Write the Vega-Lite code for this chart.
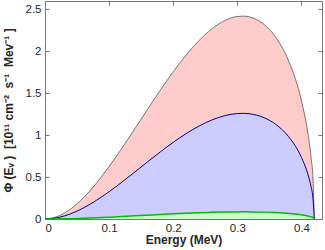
{
  "$schema": "https://vega.github.io/schema/vega-lite/v6.json",
  "width": 277,
  "height": 218,
  "autosize": {"type": "none"},
  "padding": {"left": 45, "top": 1, "right": 3, "bottom": 31},
  "config": {
    "view": {"stroke": "#777777", "strokeWidth": 1},
    "font": "Liberation Sans",
    "axis": {
      "grid": false,
      "domain": false,
      "tickColor": "#777777",
      "tickSize": -4,
      "labelFontSize": 11.5,
      "labelColor": "#262626",
      "labelFont": "Liberation Sans",
      "titleFont": "Liberation Sans",
      "titleFontSize": 12,
      "titleFontWeight": "bold",
      "titleColor": "#262626",
      "format": "~g"
    }
  },
  "data": {
    "values": [
      {"E": 0, "red": 0, "blue": 0, "green": 0},
      {"E": 0.02, "red": 0.0316, "blue": 0.0164, "green": 0.0011},
      {"E": 0.04, "red": 0.1196, "blue": 0.0623, "green": 0.0042},
      {"E": 0.06, "red": 0.2541, "blue": 0.1323, "green": 0.0089},
      {"E": 0.08, "red": 0.4259, "blue": 0.2218, "green": 0.015},
      {"E": 0.1, "red": 0.6257, "blue": 0.3258, "green": 0.022},
      {"E": 0.12, "red": 0.845, "blue": 0.44, "green": 0.0297},
      {"E": 0.14, "red": 1.0756, "blue": 0.5601, "green": 0.0378},
      {"E": 0.16, "red": 1.3093, "blue": 0.6818, "green": 0.046},
      {"E": 0.18, "red": 1.5387, "blue": 0.8012, "green": 0.0541},
      {"E": 0.2, "red": 1.7562, "blue": 0.9145, "green": 0.0617},
      {"E": 0.22, "red": 1.9547, "blue": 1.0178, "green": 0.0687},
      {"E": 0.24, "red": 2.1272, "blue": 1.1077, "green": 0.0748},
      {"E": 0.26, "red": 2.2665, "blue": 1.1802, "green": 0.0797},
      {"E": 0.28, "red": 2.3653, "blue": 1.2317, "green": 0.0832},
      {"E": 0.3, "red": 2.4156, "blue": 1.2578, "green": 0.0849},
      {"E": 0.31, "red": 2.4198, "blue": 1.26, "green": 0.0851},
      {"E": 0.32, "red": 2.408, "blue": 1.2539, "green": 0.0847},
      {"E": 0.34, "red": 2.3308, "blue": 1.2137, "green": 0.082},
      {"E": 0.36, "red": 2.1664, "blue": 1.1281, "green": 0.0762},
      {"E": 0.38, "red": 1.8843, "blue": 0.9812, "green": 0.0663},
      {"E": 0.4, "red": 1.4092, "blue": 0.7338, "green": 0.0496},
      {"E": 0.41, "red": 1.0238, "blue": 0.5331, "green": 0.036},
      {"E": 0.415, "red": 0.7331, "blue": 0.3817, "green": 0.0258},
      {"E": 0.418, "red": 0.466, "blue": 0.2427, "green": 0.0164},
      {"E": 0.42, "red": 0, "blue": 0, "green": 0}
    ]
  },
  "layer": [
    {
      "mark": {"type": "area", "interpolate": "monotone", "color": "#ffcccc", "opacity": 1, "line": {"color": "#444444", "strokeWidth": 0.7}},
      "encoding": {
        "x": {"field": "E", "type": "quantitative", "scale": {"domain": [0, 0.432], "nice": false}, "axis": {"title": "Energy (MeV)", "values": [0, 0.1, 0.2, 0.3, 0.4], "labelPadding": 7, "titlePadding": 1}},
        "y": {"field": "red", "type": "quantitative", "scale": {"domain": [0, 2.6], "nice": false}, "axis": {"title": "Φ\u00a0(Eᵥ\u00a0)\u00a0\u00a0[10¹¹\u00a0cm⁻²\u00a0\u00a0s⁻¹\u00a0\u00a0Mev⁻¹\u00a0]", "values": [0, 0.5, 1, 1.5, 2, 2.5], "labelPadding": 8, "titlePadding": 10}}
      }
    },
    {
      "mark": {"type": "area", "interpolate": "monotone", "color": "#ccccff", "opacity": 1, "line": {"color": "#000080", "strokeWidth": 1}},
      "encoding": {
        "x": {"field": "E", "type": "quantitative", "axis": null},
        "y": {"field": "blue", "type": "quantitative", "axis": null}
      }
    },
    {
      "mark": {"type": "area", "interpolate": "monotone", "color": "#ccffcc", "opacity": 1, "line": {"color": "#00bb00", "strokeWidth": 1.5}},
      "encoding": {
        "x": {"field": "E", "type": "quantitative", "axis": null},
        "y": {"field": "green", "type": "quantitative", "axis": null}
      }
    },
    {
      "mark": {"type": "point", "opacity": 0},
      "encoding": {
        "x": {"field": "E", "type": "quantitative", "axis": {"orient": "top", "labels": false, "title": null, "values": [0, 0.1, 0.2, 0.3, 0.4]}},
        "y": {"field": "red", "type": "quantitative", "axis": {"orient": "right", "labels": false, "title": null, "values": [0, 0.5, 1, 1.5, 2, 2.5]}}
      }
    }
  ],
  "resolve": {"axis": {"x": "independent", "y": "independent"}}
}
